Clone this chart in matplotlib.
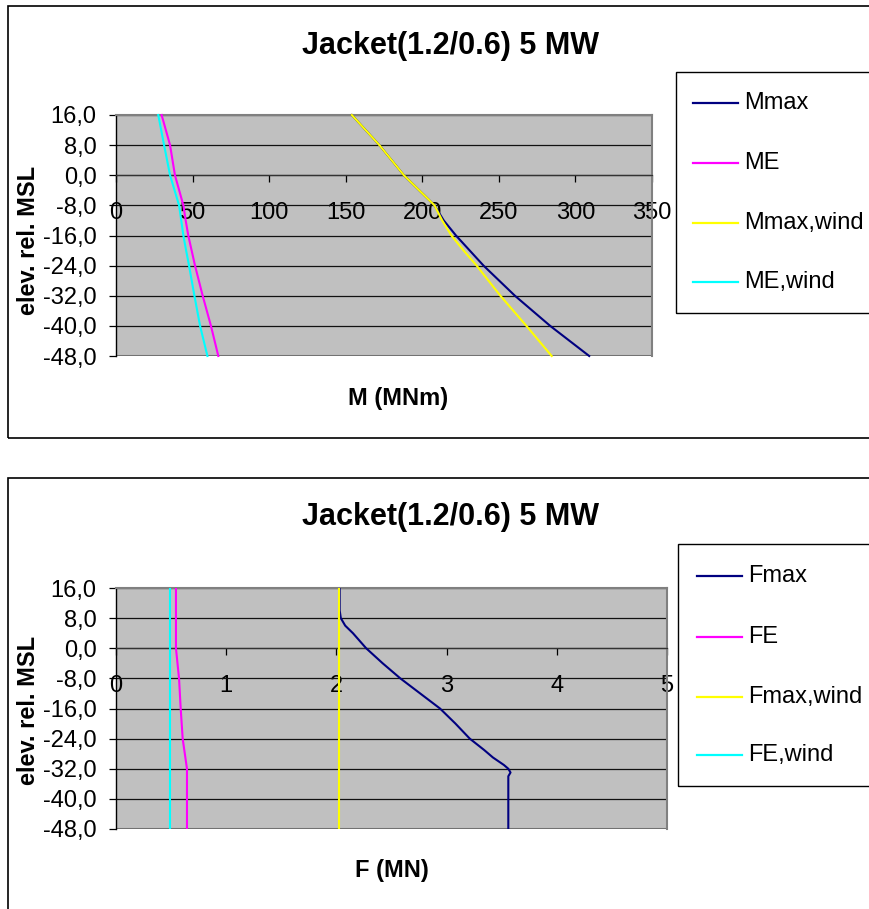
import matplotlib
matplotlib.use('Agg')
import matplotlib.pyplot as plt
from matplotlib.patches import Rectangle
from matplotlib.lines import Line2D
from matplotlib.ticker import FuncFormatter

plt.rcParams['font.family'] = ['Liberation Sans', 'DejaVu Sans']

# ---------------- data ----------------
title = "Jacket(1.2/0.6) 5 MW"
ylabel = "elev. rel. MSL"
yticks = [16, 8, 0, -8, -16, -24, -32, -40, -48]

# top panel: moments
m_names = ["Mmax", "ME", "Mmax,wind", "ME,wind"]
m_xlabel = "M (MNm)"
m_xticks = [0, 50, 100, 150, 200, 250, 300, 350]
elev_m = [16, 8, 0, -8, -12, -16, -20, -24, -32, -40, -48]
Mmax = [154, 172, 188, 208, 214, 222, 231, 240, 260.5, 283.5, 309]
ME = [29.8, 35.3, 38.5, 44, 45.5, 47.2, 49.4, 51.6, 56.6, 62, 66.8]
Mmax_wind = [154, 172, 188, 208, 213, 219, 227, 235.5, 251, 268, 284.5]
ME_wind = [27.6, 31.4, 35.3, 41.2, 42.6, 44, 45.8, 47.7, 51.2, 54.9, 59.7]

# bottom panel: forces
f_names = ["Fmax", "FE", "Fmax,wind", "FE,wind"]
f_xlabel = "F (MN)"
f_xticks = [0, 1, 2, 3, 4, 5]
elev_f = [16, 10, 8, 6, 4, 2, 0, -4, -8, -12, -16, -20, -24, -27, -29, -31, -32, -33, -34, -36, -40, -48]
Fmax = [2.03, 2.03, 2.04, 2.08, 2.15, 2.21, 2.27, 2.42, 2.58, 2.76, 2.94, 3.08, 3.21, 3.34, 3.42, 3.52, 3.56, 3.58, 3.56, 3.56, 3.56, 3.56]
elev_fe = [16, 0, -8, -16, -24, -32, -40, -48]
FE = [0.544, 0.544, 0.572, 0.587, 0.605, 0.644, 0.644, 0.644]
elev_fw = [16, -48]
Fmax_wind = [2.025, 2.025]
FE_wind = [0.49, 0.49]

colors = ['#000080', '#FF00FF', '#FFFF00', '#00FFFF']

# ---------------- layout helpers ----------------
W, H = 870, 909
fig = plt.figure(figsize=(W / 100, H / 100), dpi=100)


def fx(x):
    return x / W


def fy(y):
    return 1 - y / H


def add_box(x0, y0, x1, y1, lw=1.2, ec='black'):
    fig.patches.append(Rectangle((fx(x0), fy(y1)), fx(x1) - fx(x0), fy(y0) - fy(y1),
                                 transform=fig.transFigure, fill=False, ec=ec, lw=lw,
                                 clip_on=False))


def make_axes(l, t, r, b, xmax, xticks):
    ax = fig.add_axes([fx(l), fy(b), fx(r) - fx(l), (b - t) / H])
    ax.set_facecolor('#C0C0C0')
    ax.set_xlim(0, xmax)
    ax.set_ylim(-48, 16)
    ax.set_yticks(yticks)
    ax.yaxis.set_major_formatter(FuncFormatter(lambda v, p: f"{v:.1f}".replace('.', ',')))
    ax.set_xticks(xticks)
    ax.grid(axis='y', color='#111111', lw=0.9)
    ax.grid(axis='x', visible=False)
    ax.spines['bottom'].set_position(('data', 0))
    ax.spines['bottom'].set_color('#333333')
    ax.spines['bottom'].set_linewidth(0.9)
    ax.spines['left'].set_color('black')
    ax.spines['left'].set_linewidth(1.0)
    for s in ('top', 'right'):
        ax.spines[s].set_color('#808080')
        ax.spines[s].set_linewidth(1.5)
    ax.axhline(-48, color='#808080', lw=1.5, zorder=1.5)
    ax.tick_params(axis='x', direction='out', length=5, width=0.9, pad=14.5, labelsize=17, colors='black')
    ax.tick_params(axis='y', direction='out', length=5, width=0.9, pad=9, labelsize=17, colors='black')
    return ax


def legend(x0, y0, y1, hx0, hx1, tx, ys, names):
    add_box(x0, y0, 900, y1, lw=1.0)
    for yy, name, c in zip(ys, names, colors):
        fig.add_artist(Line2D([fx(hx0), fx(hx1)], [fy(yy), fy(yy)], color=c, lw=1.6,
                              transform=fig.transFigure))
        fig.text(fx(tx), fy(yy), name, fontsize=17, ha='left', va='center')


# ---------------- top panel ----------------
add_box(8, 6, 900, 438)
ax1 = make_axes(116, 115, 652, 356, 350, m_xticks)
for vals, c in zip([Mmax, ME, Mmax_wind, ME_wind], colors):
    ax1.plot(vals, elev_m, color=c, lw=1.5, clip_on=False, zorder=3)
fig.text(fx(451), fy(46), title, fontsize=22, fontweight='bold', ha='center', va='center')
fig.text(fx(398), fy(398), m_xlabel, fontsize=17, fontweight='bold', ha='center', va='center')
fig.text(fx(29), fy(240), ylabel, fontsize=17, fontweight='bold', rotation=90, ha='center', va='center')
legend(676, 72, 313, 693, 738, 744, [103, 163, 223, 282], m_names)

# ---------------- bottom panel ----------------
add_box(8, 478, 900, 1000)
ax2 = make_axes(116, 588, 667, 829, 5, f_xticks)
ax2.plot(Fmax, elev_f, color=colors[0], lw=1.5, zorder=3)
ax2.plot(FE, elev_fe, color=colors[1], lw=1.5, zorder=3)
ax2.plot(Fmax_wind, elev_fw, color=colors[2], lw=1.5, zorder=3)
ax2.plot(FE_wind, elev_fw, color=colors[3], lw=1.5, zorder=3)
fig.text(fx(451), fy(517), title, fontsize=22, fontweight='bold', ha='center', va='center')
fig.text(fx(392), fy(871), f_xlabel, fontsize=17, fontweight='bold', ha='center', va='center')
fig.text(fx(29), fy(710), ylabel, fontsize=17, fontweight='bold', rotation=90, ha='center', va='center')
legend(678, 544, 786, 697, 742, 748, [576, 637, 697, 755], f_names)

fig.savefig('out.png', dpi=100, facecolor='white')
